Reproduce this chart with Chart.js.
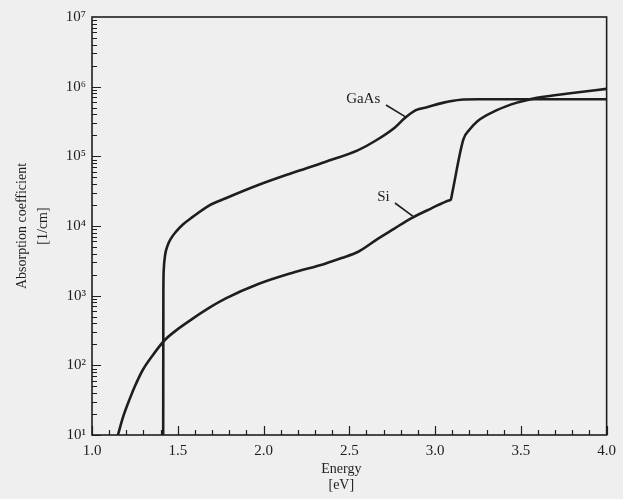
<!DOCTYPE html>
<html>
<head>
<meta charset="utf-8">
<script src="https://cdn.jsdelivr.net/npm/chart.js@4.4.1/dist/chart.umd.min.js"></script>
<style>
  html, body { margin: 0; padding: 0; background: #efefef; }
  #wrap { width: 623px; height: 499px; }
</style>
</head>
<body>
<div id="wrap"><canvas id="absChart" width="623" height="499"></canvas></div>
<script>
// photon energy [eV] and absorption coefficient [1/cm]
const energyGaAs = [1.415, 1.416, 1.418, 1.426, 1.44, 1.46, 1.49, 1.53, 1.587, 1.68, 1.78, 1.973,
    2.166, 2.359, 2.552, 2.65, 2.766, 2.824, 2.888, 2.957, 3.05, 3.15, 3.25, 4.0];
const alphaGaAs = [10, 1.0e3, 2.3e3, 3.8e3, 5.2e3, 6.6e3, 8.3e3, 1.05e4, 1.35e4, 1.95e4, 2.5e4, 3.9e4,
    5.75e4, 8.3e4, 1.23e5, 1.66e5, 2.6e5, 3.55e5, 4.6e5, 5.1e5, 5.9e5, 6.5e5, 6.6e5, 6.6e5];

const energySi = [1.151, 1.18, 1.22, 1.25, 1.295, 1.35, 1.423, 1.50, 1.587, 1.68, 1.78, 1.973,
    2.166, 2.359, 2.455, 2.552, 2.668, 2.76, 2.86, 2.976, 3.085, 3.092, 3.10, 3.165, 3.20, 3.247,
    3.36, 3.478, 3.594, 3.8, 4.0];
const alphaSi = [10, 17.8, 33, 50, 85, 135, 229, 331, 468, 661, 912, 1.48e3,
    2.12e3, 2.88e3, 3.47e3, 4.27e3, 6.6e3, 9.1e3, 1.29e4, 1.78e4, 2.35e4, 2.4e4, 2.98e4, 1.75e5, 2.4e5, 3.2e5,
    4.6e5, 5.9e5, 6.9e5, 8.1e5, 9.3e5];

// axis ticks
const xMajorTicks = [1.0, 1.5, 2.0, 2.5, 3.0, 3.5, 4.0];
const yDecades = [1e1, 1e2, 1e3, 1e4, 1e5, 1e6, 1e7];

// curve labels with leader lines (data coordinates)
const labelText = ['GaAs', 'Si'];
const labelEnergy = [2.581, 2.699];
const labelAlpha = [6.65e5, 2.6e4];
const leaderFrom = [[2.714, 5.46e5], [2.766, 2.14e4]];
const leaderTo = [[2.830, 3.66e5], [2.870, 1.39e4]];

const SERIF = '"Liberation Serif", "DejaVu Serif", serif';
const INK = '#1e1e1e';
const SUP = { 1: '¹', 2: '²', 3: '³', 4: '⁴', 5: '⁵', 6: '⁶', 7: '⁷' };

function toPoints(xs, ys) {
    return xs.map((x, i) => ({ x: x, y: ys[i] }));
}

/**
 * 背景、外框、内向刻度、轴标题和曲线标注
 */
const figureDecor = {
    id: 'figureDecor',
    beforeDraw(chart) {
        const ctx = chart.ctx;
        ctx.save();
        ctx.fillStyle = '#efefef';
        ctx.fillRect(0, 0, chart.width, chart.height);
        ctx.restore();
    },
    afterDatasetsDraw(chart) {
        const ctx = chart.ctx;
        const { left, right, top, bottom } = chart.chartArea;
        const xs = chart.scales.x;
        const ys = chart.scales.y;

        ctx.save();
        ctx.strokeStyle = INK;

        // frame
        ctx.lineWidth = 1.6;
        ctx.strokeRect(left, top, right - left, bottom - top);

        // x ticks, every 0.1 eV, pointing inward
        ctx.lineWidth = 1.2;
        ctx.beginPath();
        for (let i = 0; i <= 30; i++) {
            const v = 1 + i * 0.1;
            const px = Math.round(xs.getPixelForValue(v)) + 0.5;
            const len = i % 5 === 0 ? 9 : 5;
            ctx.moveTo(px, bottom);
            ctx.lineTo(px, bottom - len);
        }
        // y ticks, 1..9 per decade
        for (let n = 1; n <= 6; n++) {
            for (let k = 1; k <= 9; k++) {
                const py = Math.round(ys.getPixelForValue(k * Math.pow(10, n))) + 0.5;
                const len = k === 1 ? 9 : 5;
                ctx.moveTo(left, py);
                ctx.lineTo(left + len, py);
            }
        }
        ctx.stroke();

        // axis titles
        ctx.fillStyle = INK;
        ctx.font = '14px ' + SERIF;
        ctx.textAlign = 'center';
        ctx.textBaseline = 'middle';
        const cx = (left + right) / 2 - 8;
        ctx.fillText('Energy', cx, bottom + 34);
        ctx.fillText('[eV]', cx, bottom + 50);

        const cy = (top + bottom) / 2;
        ctx.save();
        ctx.translate(22, cy);
        ctx.rotate(-Math.PI / 2);
        ctx.fillText('Absorption coefficient', 0, 0);
        ctx.restore();
        ctx.save();
        ctx.translate(43, cy);
        ctx.rotate(-Math.PI / 2);
        ctx.fillText('[1/cm]', 0, 0);
        ctx.restore();

        // curve labels
        ctx.font = '15px ' + SERIF;
        ctx.lineWidth = 1.6;
        labelText.forEach((txt, i) => {
            ctx.fillText(txt, xs.getPixelForValue(labelEnergy[i]), ys.getPixelForValue(labelAlpha[i]));
            ctx.beginPath();
            ctx.moveTo(xs.getPixelForValue(leaderFrom[i][0]), ys.getPixelForValue(leaderFrom[i][1]));
            ctx.lineTo(xs.getPixelForValue(leaderTo[i][0]), ys.getPixelForValue(leaderTo[i][1]));
            ctx.stroke();
        });

        ctx.restore();
    }
};

const lineStyle = {
    borderColor: INK,
    borderWidth: 2.6,
    pointRadius: 0,
    fill: false,
    cubicInterpolationMode: 'monotone'
};

new Chart(document.getElementById('absChart'), {
    type: 'line',
    data: {
        datasets: [
            Object.assign({ label: 'GaAs', data: toPoints(energyGaAs, alphaGaAs) }, lineStyle),
            Object.assign({ label: 'Si', data: toPoints(energySi, alphaSi) }, lineStyle)
        ]
    },
    options: {
        responsive: false,
        animation: false,
        layout: { padding: { left: 0, top: 17, right: 13, bottom: 0 } },
        plugins: {
            legend: { display: false },
            tooltip: { enabled: false }
        },
        scales: {
            x: {
                type: 'linear',
                min: 1,
                max: 4,
                grid: { display: false, drawTicks: false },
                border: { display: false },
                afterBuildTicks: (scale) => {
                    scale.ticks = xMajorTicks.map(v => ({ value: v }));
                },
                afterFit: (scale) => { scale.height = 64; },
                ticks: {
                    color: INK,
                    padding: 7,
                    maxRotation: 0,
                    font: { family: SERIF, size: 15 },
                    callback: (v) => Number(v).toFixed(1)
                }
            },
            y: {
                type: 'logarithmic',
                min: 10,
                max: 1e7,
                grid: { display: false, drawTicks: false },
                border: { display: false },
                afterBuildTicks: (scale) => {
                    scale.ticks = yDecades.map(v => ({ value: v }));
                },
                afterFit: (scale) => { scale.width = 92; },
                ticks: {
                    color: INK,
                    padding: 6,
                    font: { family: SERIF, size: 15 },
                    callback: (v) => '10' + SUP[Math.round(Math.log10(v))]
                }
            }
        }
    },
    plugins: [figureDecor]
});
</script>
</body>
</html>
